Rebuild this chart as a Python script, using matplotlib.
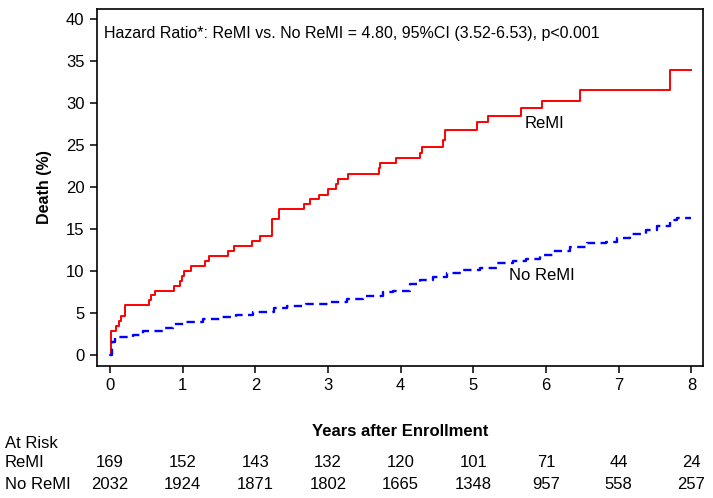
import matplotlib
matplotlib.use("Agg")
import matplotlib.pyplot as plt
import matplotlib.transforms as mtransforms

plt.rcParams['font.family'] = ['Liberation Sans', 'DejaVu Sans']

# ReMI Kaplan-Meier cumulative death (%) step points
remi_t = [0.0, 0.01, 0.08, 0.12, 0.15, 0.20, 0.54, 0.57, 0.62, 0.88, 0.96, 0.99, 1.02, 1.12,
          1.31, 1.36, 1.63, 1.71, 1.95, 2.07, 2.23, 2.33, 2.67, 2.75, 2.87, 3.00, 3.11, 3.14,
          3.28, 3.70, 3.72, 3.94, 4.27, 4.29, 4.58, 4.61, 5.05, 5.20, 5.65, 5.95, 6.47, 7.70, 7.99]
remi_y = [0.0, 2.9, 3.5, 4.1, 4.7, 5.9, 6.5, 7.1, 7.65, 8.25, 8.85, 9.4, 10.0, 10.6,
          11.2, 11.8, 12.4, 13.0, 13.6, 14.2, 16.2, 17.4, 18.0, 18.6, 19.1, 19.8, 20.4, 21.0,
          21.5, 22.3, 22.9, 23.5, 24.1, 24.8, 25.6, 26.8, 27.7, 28.4, 29.4, 30.2, 31.5, 33.9, 33.9]

# No ReMI curve points
noremi_t = [0.0, 0.03, 0.07, 0.32, 0.46, 0.73, 0.87, 1.05, 1.28, 1.51, 1.74, 1.97, 2.25, 2.43,
            2.70, 3.03, 3.26, 3.48, 3.76, 3.90, 4.13, 4.26, 4.44, 4.63, 4.86, 5.09, 5.32, 5.55,
            5.73, 5.91, 6.10, 6.33, 6.56, 6.83, 6.97, 7.15, 7.38, 7.52, 7.70, 7.80, 8.00]
noremi_y = [0.0, 1.5, 2.2, 2.4, 2.8, 3.2, 3.65, 3.9, 4.3, 4.55, 4.75, 5.1, 5.55, 5.8,
            6.05, 6.35, 6.65, 7.05, 7.45, 7.65, 8.45, 8.9, 9.3, 9.8, 10.1, 10.4, 10.9, 11.2,
            11.4, 11.9, 12.4, 12.9, 13.3, 13.4, 13.9, 14.4, 14.9, 15.4, 16.1, 16.35, 16.35]

years = [0, 1, 2, 3, 4, 5, 6, 7, 8]
yticks = [0, 5, 10, 15, 20, 25, 30, 35, 40]
risk_remi = [169, 152, 143, 132, 120, 101, 71, 44, 24]
risk_noremi = [2032, 1924, 1871, 1802, 1665, 1348, 957, 558, 257]

hr_text = "Hazard Ratio*: ReMI vs. No ReMI = 4.80, 95%CI (3.52-6.53), p<0.001"

fig = plt.figure(figsize=(7.13, 4.98), dpi=100)
ax = fig.add_axes([0.136, 0.2657, 0.850, 0.7163])

ax.step(remi_t, remi_y, where='post', color='#ff0000', lw=1.4)
ax.step(noremi_t, noremi_y, where='post', color='#0000ff', lw=1.7, dashes=[3.5, 2.3])

ax.set_xlim(-0.18, 8.16)
ax.set_ylim(-1.27, 41.2)
ax.set_xticks(years)
ax.set_yticks(yticks)
ax.tick_params(direction='out', length=5, width=1.1, labelsize=12, pad=4)
for s in ax.spines.values():
    s.set_linewidth(1.2)

ax.set_ylabel("Death (%)", fontsize=11.5, fontweight='bold', labelpad=10)
ax.set_xlabel("Years after Enrollment", fontsize=12, fontweight='bold', labelpad=22)

ax.text(-0.08, 38.3, hr_text, fontsize=11.5, ha='left', va='center')
ax.text(5.98, 27.6, "ReMI", fontsize=12, ha='center', va='center')
ax.text(5.94, 9.5, "No ReMI", fontsize=12, ha='center', va='center')

trans = mtransforms.blended_transform_factory(ax.transData, fig.transFigure)
fig.text(0.007, 1 - 443 / 498, "At Risk", fontsize=12, ha='left', va='center')
fig.text(0.007, 1 - 462 / 498, "ReMI", fontsize=12, ha='left', va='center')
fig.text(0.007, 1 - 484 / 498, "No ReMI", fontsize=12, ha='left', va='center')
for x, a, b in zip(years, risk_remi, risk_noremi):
    ax.text(x, 1 - 462 / 498, str(a), transform=trans, fontsize=12, ha='center', va='center', clip_on=False)
    ax.text(x, 1 - 484 / 498, str(b), transform=trans, fontsize=12, ha='center', va='center', clip_on=False)

fig.savefig("out.png", dpi=100)
